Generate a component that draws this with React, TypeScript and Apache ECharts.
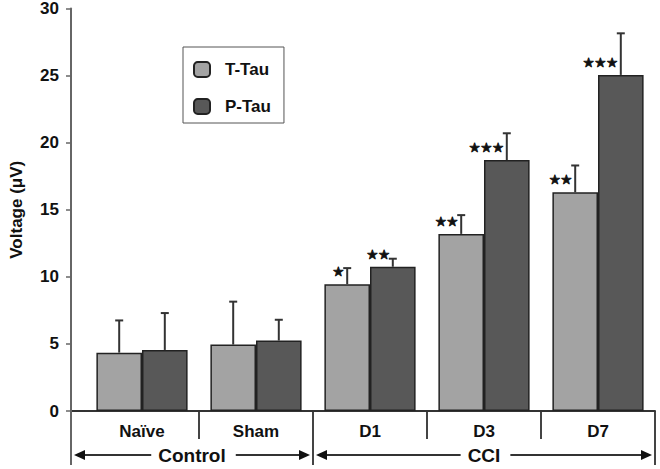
import React, { useEffect, useRef } from "react";
import * as echarts from "echarts";

const categories = ["Naïve", "Sham", "D1", "D3", "D7"];
const tTau = [4.35, 4.95, 9.45, 13.2, 16.3];
const pTau = [4.55, 5.25, 10.75, 18.7, 25.05];
const tTauErrTop = [6.75, 8.15, 10.65, 14.6, 18.3];
const pTauErrTop = [7.3, 6.8, 11.35, 20.7, 28.15];
const tTauSig = ["", "", "★", "★★", "★★"];
const pTauSig = ["", "", "★★", "★★★", "★★★"];
const groups = [
  { name: "Control", from: 0, to: 2 },
  { name: "CCI", from: 2, to: 5 },
];
const yTicks = { min: 0, max: 30, interval: 5 };

const FONT = "'Liberation Sans', Arial, sans-serif";
const Y_OFFSET = 14;

function errSeries(name: string, top: number[], base: number[], sign: number) {
  return {
    type: "custom",
    name: name + " err",
    z: 5,
    renderItem: (params: any, api: any) => {
      const cat = api.value(0);
      const hi = api.value(1);
      const lo = api.value(2);
      const band = api.size([1, 0])[0];
      const off = sign * band * 0.2;
      const pHi = api.coord([cat, hi]);
      const pLo = api.coord([cat, lo]);
      const x = pHi[0] + off;
      const st = { stroke: "#333", lineWidth: 2 };
      return {
        type: "group",
        children: [
          { type: "line", shape: { x1: x, y1: pLo[1], x2: x, y2: pHi[1] }, style: st },
          { type: "line", shape: { x1: x - 4, y1: pHi[1], x2: x + 4, y2: pHi[1] }, style: st },
        ],
      };
    },
    data: top.map((v, i) => [i, v, base[i]]),
    tooltip: { show: false },
  };
}

function barSeries(name: string, values: number[], sig: string[], color: string) {
  return {
    type: "bar",
    name,
    data: values,
    barGap: "0%",
    barCategoryGap: "20%",
    itemStyle: { color, borderColor: "#222", borderWidth: 1.5 },
    label: {
      show: true,
      position: "top",
      align: "right",
      offset: [-3, 0],
      distance: 6,
      fontSize: 13,
      fontFamily: "'DejaVu Sans', sans-serif",
      color: "#111",
      textBorderColor: "#111",
      textBorderWidth: 0.8,
      formatter: (p: any) => sig[p.dataIndex],
    },
  };
}

export default function App() {
  const ref = useRef<HTMLDivElement>(null);
  useEffect(() => {
    if (!ref.current) return;
    const chart = echarts.init(ref.current, null, { renderer: "svg" });
    chart.setOption({
      animation: false,
      backgroundColor: "#fff",
      grid: { left: 83, right: 5, top: 7, bottom: 58 },
      legend: {
        data: ["T-Tau", "P-Tau"],
        orient: "vertical",
        left: 183,
        top: 47,
        backgroundColor: "#fff",
        borderColor: "#555",
        borderWidth: 1,
        padding: [14, 13, 8, 10],
        itemWidth: 16,
        itemHeight: 15,
        itemGap: 20,
        textStyle: { fontSize: 17, fontWeight: "bold", fontFamily: FONT, color: "#111", padding: [0, 0, 0, 10] },
      },
      xAxis: {
        type: "category",
        data: categories,
        axisLine: { lineStyle: { color: "#333", width: 2 } },
        axisTick: { show: false },
        axisLabel: { margin: 12, fontSize: 17, fontWeight: "bold", fontFamily: FONT, color: "#111" },
      },
      yAxis: {
        type: "value",
        min: yTicks.min,
        max: yTicks.max,
        interval: yTicks.interval,
        offset: Y_OFFSET,
        name: "Voltage (μV)",
        nameLocation: "middle",
        nameGap: 46,
        nameTextStyle: { fontSize: 17, fontWeight: "bold", fontFamily: FONT, color: "#111" },
        splitLine: { show: false },
        axisLine: { show: true, lineStyle: { color: "#666", width: 2 } },
        axisTick: { show: true, length: 5, lineStyle: { color: "#666", width: 1.5 } },
        axisLabel: { margin: 12, fontSize: 17, fontWeight: "bold", fontFamily: FONT, color: "#111" },
      },
      series: [
        barSeries("T-Tau", tTau, tTauSig, "#a3a3a3"),
        barSeries("P-Tau", pTau, pTauSig, "#585858"),
        errSeries("T-Tau", tTauErrTop, tTau, -1),
        errSeries("P-Tau", pTauErrTop, pTau, 1),
      ],
    });

    // table-like frame under the axis, positioned from the axis scale
    const c0 = chart.convertToPixel({ xAxisIndex: 0 }, 0) as number;
    const c1 = chart.convertToPixel({ xAxisIndex: 0 }, 1) as number;
    const band = c1 - c0;
    const gridLeft = c0 - band / 2;
    const axisX = gridLeft - Y_OFFSET;
    const y0 = chart.convertToPixel({ yAxisIndex: 0 }, 0) as number;
    const yShort = y0 + 28;
    const yLong = y0 + 54;
    const yGroup = y0 + 44;
    const lineSt = { stroke: "#333", lineWidth: 2 };
    const els: any[] = [];
    els.push({ type: "line", shape: { x1: axisX, y1: y0, x2: gridLeft, y2: y0 }, style: lineSt });
    els.push({ type: "line", shape: { x1: axisX, y1: y0, x2: axisX, y2: yLong }, style: { stroke: "#666", lineWidth: 2 } });
    const groupBounds = new Set(groups.map((g) => g.to));
    for (let i = 1; i <= categories.length; i++) {
      const x = gridLeft + band * i;
      const long = groupBounds.has(i);
      els.push({ type: "line", shape: { x1: x, y1: y0, x2: x, y2: long ? yLong : yShort }, style: { stroke: "#444", lineWidth: 2 } });
    }
    const canvas = document.createElement("canvas");
    const ctx = canvas.getContext("2d")!;
    ctx.font = "bold 19px 'Liberation Sans', Arial";
    groups.forEach((g) => {
      const left = g.from === 0 ? axisX : gridLeft + band * g.from;
      const right = gridLeft + band * g.to;
      const cx = (left + right) / 2;
      const w = ctx.measureText(g.name).width;
      const l1 = left + 3;
      const l2 = cx - w / 2 - 7;
      const r1 = cx + w / 2 + 10;
      const r2 = right - 3;
      els.push({
        type: "text",
        style: { text: g.name, x: cx, y: yGroup, align: "center", verticalAlign: "middle", fontSize: 19, fontWeight: "bold", fontFamily: FONT, fill: "#111" },
      });
      els.push({ type: "line", shape: { x1: l1 + 8, y1: yGroup, x2: l2, y2: yGroup }, style: lineSt });
      els.push({ type: "polygon", shape: { points: [[l1, yGroup], [l1 + 11, yGroup - 5], [l1 + 11, yGroup + 5]] }, style: { fill: "#111" } });
      els.push({ type: "line", shape: { x1: r1, y1: yGroup, x2: r2 - 8, y2: yGroup }, style: lineSt });
      els.push({ type: "polygon", shape: { points: [[r2, yGroup], [r2 - 11, yGroup - 5], [r2 - 11, yGroup + 5]] }, style: { fill: "#111" } });
    });
    chart.setOption({ graphic: els });
    return () => chart.dispose();
  }, []);
  return <div ref={ref} style={{ position: "fixed", left: 0, top: 0, width: 660, height: 469 }} />;
}
